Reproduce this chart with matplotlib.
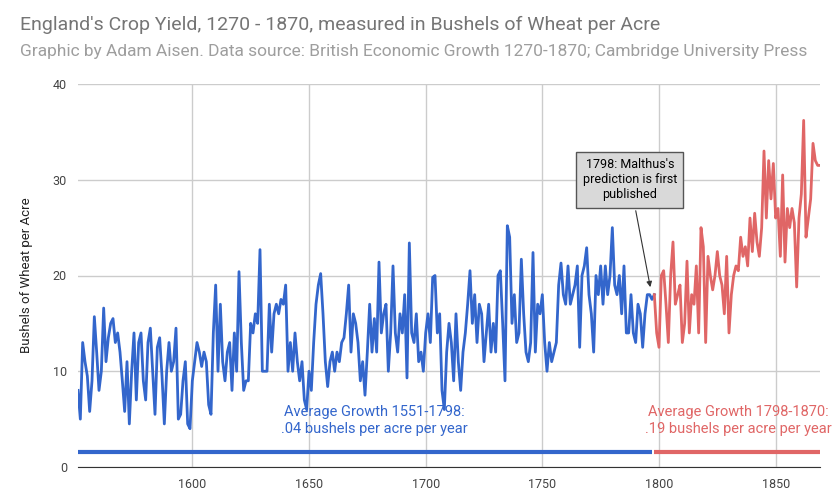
import matplotlib
matplotlib.use("Agg")
import matplotlib.pyplot as plt
import numpy as np

blue_start = 1551
blue_vals = [8,5,13,11,9.5,5.8,9,15.7,12,8,
 10,16.6,11,13.5,15,15.5,13,14,12,9,
 5.8,11,4.5,10,14,7,13,14,9,7,
 13,14.5,10,5.5,12.5,13.5,9.5,4.5,10,13,
 10,11,14.5,5,5.5,9,11,4.5,4,9,
 11,13,12,10.5,12,11,6.5,5.5,14,19,
 10,17,11,9,12,13,8,14,10,20.4,
 13,8,9,9,15,14,16,15,22.7,10,
 10,10,17,12,16,17,16,17.5,17,19,
 10,13,10,14,11,9,11,7,6,10,
 8,13,17,19,20.2,16,11,8.4,11,12,
 10,12,11,13,13.5,16,19,12,16,15,
 13,9,11,7.5,12,17,12,15.5,12,21.4,
 14,16,17,10,14,21,14,12,16,14,
 18,9.3,23.4,14,13,16,11,12,10,14,
 16,13,19.8,20,14,16,8,6,12,15,
 13,9,16,11,8,12,14,17,20.5,15,
 18,13,17,16,11,14,17,12,15,12,
 20,20.5,15,9,25.2,24,15,18,13,14,
 21.7,16,12,11,13,22.4,12,17,16,18,
 13,10,13,11,12,13,19,21.3,18,17,
 21,17,18,19,21,12.5,20,21,22.9,18,
 16,12,20,18,21,17,21,18,20,25,
 19,18,20,16,21,14,14,18,14,13,
 17,16,12.5,16,18,18,17.5,18]
red_start = 1798
red_vals = [18,14,12.5,20,20.5,17,13,20,23.5,17,
 18,19,13,15,21.5,14,18,17,21,14,
 25,23,13,22,20,18.5,20,22.5,20,19,
 16,22,14,18,20,21,20.5,24,22,23,
 21,26,22.5,26.5,23.5,22,25,33,26,32,
 28,31.7,26,27,22,30.5,21.4,27,25,27,
 25.5,18.8,26,28.5,36.2,24,26,28,33.8,32,
 31.5,31.5]
avg_level = 1.6
blue_label = "Average Growth 1551-1798:\n.04 bushels per acre per year"
red_label = "Average Growth 1798-1870:\n.19 bushels per acre per year"

BLUE = "#3366cc"; RED = "#e06666"
fig = plt.figure(figsize=(8.4, 5.04), dpi=100)
ax = fig.add_axes([78/840, 1-467/504, (820-78)/840, (467-84)/504])
bx = np.arange(blue_start, blue_start+len(blue_vals))
rx = np.arange(red_start, red_start+len(red_vals))
ax.plot(bx, blue_vals, color=BLUE, lw=2)
ax.plot(rx, red_vals, color=RED, lw=2)
ax.plot([bx[0], bx[-1]-1], [avg_level]*2, color=BLUE, lw=3, solid_capstyle='butt')
ax.plot([rx[0], rx[-1]+1], [avg_level]*2, color=RED, lw=3, solid_capstyle='butt')
ax.text(1678, 3.2, blue_label, color=BLUE, fontsize=10.5, ha='center', va='bottom', family='Roboto', linespacing=1.3)
ax.text(1834, 3.2, red_label, color=RED, fontsize=10.5, ha='center', va='bottom', family='Roboto', linespacing=1.3)
ax.annotate("1798: Malthus's\nprediction is first\npublished", xy=(1796.5, 18.5), xytext=(1787.5, 30),
            ha='center', va='center', fontsize=9, family='Roboto',
            bbox=dict(boxstyle='square,pad=0.5', fc='#d9d9d9', ec='#555555', lw=1),
            arrowprops=dict(arrowstyle='-|>', color='#333333', lw=0.8, mutation_scale=8))
ax.set_xlim(1551, 1869)
ax.set_ylim(0, 40)
ax.set_xticks([1600,1650,1700,1750,1800,1850])
ax.set_yticks([0,10,20,30,40])
ax.grid(True, color='#cccccc', lw=1)
ax.set_axisbelow(True)
for s in ['top','right','left']:
    ax.spines[s].set_visible(False)
ax.spines['bottom'].set_color('#333333')
ax.tick_params(length=0, labelsize=9, labelcolor='#444444', pad=8)
for t in ax.get_xticklabels()+ax.get_yticklabels():
    t.set_family('Roboto')
ax.set_ylabel("Bushels of Wheat per Acre", fontsize=9.5, family='Roboto', color='#222222', labelpad=14)
fig.text(20/840, 1-30/504, "England's Crop Yield, 1270 - 1870, measured in Bushels of Wheat per Acre",
         fontsize=14, color='#757575', family='Roboto', va='baseline')
fig.text(20/840, 1-56/504, "Graphic by Adam Aisen. Data source: British Economic Growth 1270-1870; Cambridge University Press",
         fontsize=12.5, color='#9e9e9e', family='Roboto', va='baseline')
fig.savefig("out.png", dpi=100)
